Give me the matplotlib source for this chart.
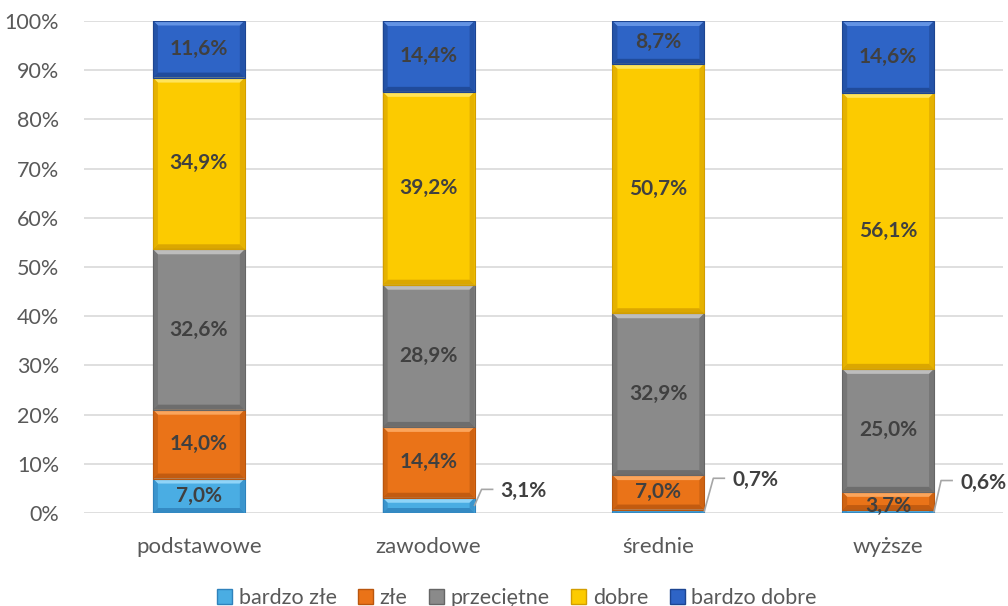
import matplotlib.pyplot as plt
import matplotlib.patches as mpatches
from matplotlib.transforms import IdentityTransform
import numpy as np

plt.rcParams['font.family'] = ['Lato', 'DejaVu Sans']

# data
categories = ['podstawowe', 'zawodowe', 'średnie', 'wyższe']
series = ['bardzo złe', 'złe', 'przeciętne', 'dobre', 'bardzo dobre']
bardzo_zle = [7.0, 3.1, 0.7, 0.6]
zle = [14.0, 14.4, 7.0, 3.7]
przecietne = [32.6, 28.9, 32.9, 25.0]
dobre = [34.9, 39.2, 50.7, 56.1]
bardzo_dobre = [11.6, 14.4, 8.7, 14.6]
values = [bardzo_zle, zle, przecietne, dobre, bardzo_dobre]

# base, light (top bevel), dark (sides/bottom)
colors = [('#4AADE3', '#8FD4F8', '#2F82BC'),
          ('#EA7318', '#FBA55C', '#B9560E'),
          ('#8A8A8A', '#BDBDBD', '#666666'),
          ('#FCCB00', '#FFE45A', '#D39E00'),
          ('#2E64C6', '#6393E4', '#1D4591')]

W, H, DPI = 1008, 606, 100
fig = plt.figure(figsize=(W / DPI, H / DPI), dpi=DPI)
ax = fig.add_axes([84 / W, 1 - 513 / H, 919 / W, 492 / H])
ax.set_xlim(-0.5, len(categories) - 0.5)
ax.set_ylim(0, 100)

bw = 0.4
px_x = (len(categories)) / 919.0
px_y = 100 / 492.0
bev = 5

for i in range(len(categories)):
    bottom = 0
    for s, vals in enumerate(values):
        v = vals[i]
        base, light, dark = colors[s]
        x0, x1 = i - bw / 2, i + bw / 2
        y0, y1 = bottom, bottom + v
        ax.add_patch(mpatches.Rectangle((x0, y0), bw, v, facecolor=base,
                                        edgecolor='none', zorder=2))
        b = min(bev, v / px_y / 2.5)
        bx, by = bev * px_x, b * px_y
        # top highlight
        ax.add_patch(mpatches.Polygon([(x0, y1), (x1, y1), (x1 - bx, y1 - by), (x0 + bx, y1 - by)],
                                      closed=True, facecolor=light, edgecolor='none', zorder=3))
        # bottom shadow
        ax.add_patch(mpatches.Polygon([(x0, y0), (x1, y0), (x1 - bx, y0 + by), (x0 + bx, y0 + by)],
                                      closed=True, facecolor=dark, edgecolor='none', zorder=3, alpha=0.8))
        # sides
        for xa, xb in [(x0, x0 + bx), (x1, x1 - bx)]:
            ax.add_patch(mpatches.Polygon([(xa, y0), (xa, y1), (xb, y1 - by), (xb, y0 + by)],
                                          closed=True, facecolor=dark, edgecolor='none', zorder=3, alpha=0.55))
        ax.add_patch(mpatches.Rectangle((x0, y0), bw, v, facecolor='none',
                                        edgecolor=dark, linewidth=0.8, zorder=4))
        bottom += v

fig.canvas.draw()

# labels
lab_kw = dict(fontsize=15, fontweight='bold', color='#404040', zorder=6)
callouts = {(1, 0): (7, -16), (2, 0): (9, -33), (3, 0): (7, -31)}
for i in range(len(categories)):
    bottom = 0
    for s, vals in enumerate(values):
        v = vals[i]
        txt = f'{v:.1f}%'.replace('.', ',')
        mid = bottom + v / 2
        if (i, s) in callouts:
            dx, dy = callouts[(i, s)]
            sx, sy = ax.transData.transform((i + bw / 2, mid))
            ex, ey = sx + dx, sy - dy
            ax.plot([sx, ex, ex + 11], [sy, ey, ey], color='#A6A6A6', lw=1.2,
                    transform=IdentityTransform(), zorder=5, clip_on=False)
            ax.text(ex + 19, ey - 2, txt, ha='left', va='center',
                    transform=IdentityTransform(), **lab_kw)
        elif s == 1 and i == 3:
            ax.text(i, bottom + 0.9, txt, ha='center', va='center', **lab_kw)
        else:
            ax.text(i, mid, txt, ha='center', va='center', **lab_kw)
        bottom += v

ax.set_yticks(np.arange(0, 101, 10))
ax.set_yticklabels([f'{t}%' for t in range(0, 101, 10)])
ax.set_xticks(range(len(categories)))
ax.set_xticklabels(categories)
ax.tick_params(axis='y', length=0, labelsize=15.5, colors='#595959', pad=18)
ax.tick_params(axis='x', length=0, labelsize=16, colors='#595959', pad=17)
ax.grid(axis='y', color='#D9D9D9', linewidth=1.2, zorder=0)
ax.set_axisbelow(True)
for sp in ax.spines.values():
    sp.set_visible(False)

handles = [mpatches.Patch(facecolor=c[0], edgecolor=c[2], label=n) for n, c in zip(series, colors)]
fig.legend(handles=handles, loc='center', bbox_to_anchor=(517 / W, 1 - 598 / H), ncol=5,
           frameon=False, fontsize=15.5, labelcolor='#595959', handlelength=0.7,
           handleheight=0.7, handletextpad=0.3, columnspacing=1.0)

fig.savefig('out.png', dpi=DPI)
